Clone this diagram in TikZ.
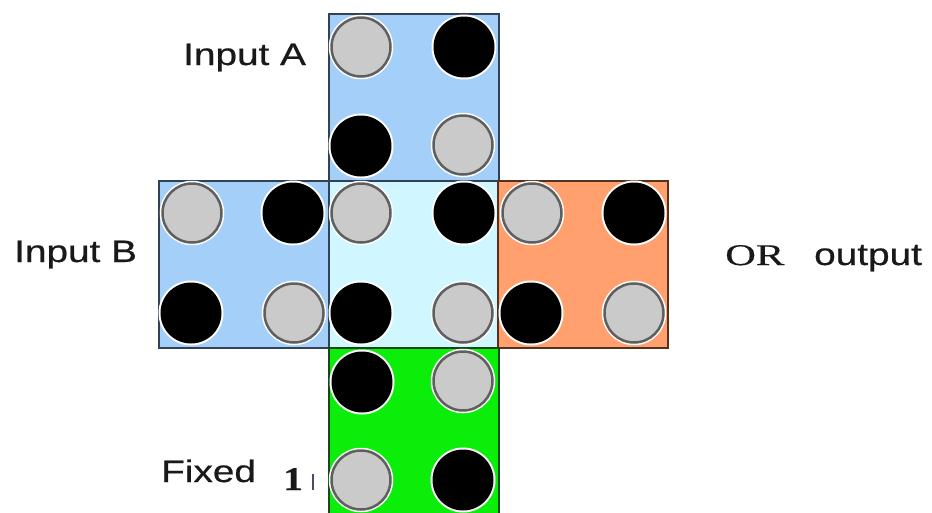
\documentclass[tikz,border=0pt]{standalone}
\usepackage{fontspec}
\setmainfont{Liberation Sans}[FakeBold=0.6]
\newfontfamily\seriffont{Liberation Serif}[FakeBold=0.4]
\definecolor{sqblue}{RGB}{164,207,248}
\definecolor{sqcyan}{RGB}{208,246,255}
\definecolor{sqorange}{RGB}{255,160,110}
\definecolor{sqgreen}{RGB}{10,238,10}
\definecolor{edgeblue}{RGB}{50,66,86}
\definecolor{edgebrown}{RGB}{85,50,30}
\definecolor{edgegreen}{RGB}{25,70,25}
\definecolor{dotgray}{RGB}{202,202,202}
\definecolor{ringgray}{RGB}{95,95,95}
\definecolor{txt}{RGB}{25,25,25}
\definecolor{tickcol}{RGB}{70,80,100}
\tikzset{
  cell/.style={rectangle, anchor=north west, inner sep=0pt, minimum width=170pt, minimum height=167pt, line width=1.5pt},
  graydot/.style={circle, inner sep=0pt, minimum size=59pt, fill=dotgray, draw=ringgray, line width=2.5pt, preaction={draw=white, line width=5.5pt}},
  blackdot/.style={circle, inner sep=0pt, minimum size=61pt, fill=black, preaction={draw=white, line width=4pt}},
  lab/.style={anchor=base west, inner sep=0pt, text=txt, font=\fontsize{31}{36}\selectfont},
  serlab/.style={anchor=base west, inner sep=0pt, text=txt, font=\seriffont\fontsize{30}{36}\selectfont}
}
\newcommand{\wide}[2][1.25]{\scalebox{#1}[1]{#2}}
\begin{document}
\begin{tikzpicture}[x=1pt,y=-1pt]
\useasboundingbox (0,0) rectangle (932,512);
% squares
\node[cell, fill=sqblue, draw=edgeblue] (A) at (328,13) {};
\node[cell, fill=sqblue, draw=edgeblue] (B) at (158,180) {};
\node[cell, fill=sqcyan, draw=edgeblue] (C) at (328,180) {};
\node[cell, fill=sqorange, draw=edgebrown] (O) at (497,180) {};
\begin{scope}
\clip (0,0) rectangle (932,512);
\node[cell, fill=sqgreen, draw=edgegreen] (G) at (328,347) {};
\end{scope}
% circles in A
\node[graydot] (a1) at (361,47) {};
\node[blackdot] (a2) at (464,47) {};
\node[blackdot] (a3) at (361,146) {};
\node[graydot] (a4) at (463,145) {};
% circles in B
\node[graydot] (b1) at (192,213) {};
\node[blackdot] (b2) at (293,213) {};
\node[blackdot] (b3) at (191,313) {};
\node[graydot] (b4) at (294,313) {};
% circles in C
\node[graydot] (c1) at (361,213) {};
\node[blackdot] (c2) at (464,213) {};
\node[blackdot] (c3) at (361,313) {};
\node[graydot] (c4) at (463,313) {};
% circles in O
\node[graydot] (o1) at (532,213) {};
\node[blackdot] (o2) at (634,213) {};
\node[blackdot] (o3) at (531,313) {};
\node[graydot] (o4) at (634,313) {};
% circles in G
\node[blackdot] (g1) at (362,382) {};
\node[graydot] (g2) at (463,381) {};
\node[graydot] (g3) at (361,480) {};
\node[blackdot] (g4) at (463,480) {};
% labels
\node[lab] (la) at (183,65) {\wide{Input A}};
\node[lab] (lb) at (14,262) {\wide{Input B}};
\node[serlab] (lor) at (725,265) {\wide[1.42]{OR}};
\node[lab] (lout) at (814,265) {\wide{output}};
\node[lab] (lf) at (161,482) {\wide{Fixed}};
\node[serlab, font=\seriffont\bfseries\fontsize{33}{40}\selectfont] (l1) at (283,490) {\wide[1.2]{1}};
\coordinate (tk1) at (313,474);
\coordinate (tk2) at (313,490);
\draw[tickcol, line width=1.6pt] (tk1) -- (tk2);
\end{tikzpicture}
\end{document}
